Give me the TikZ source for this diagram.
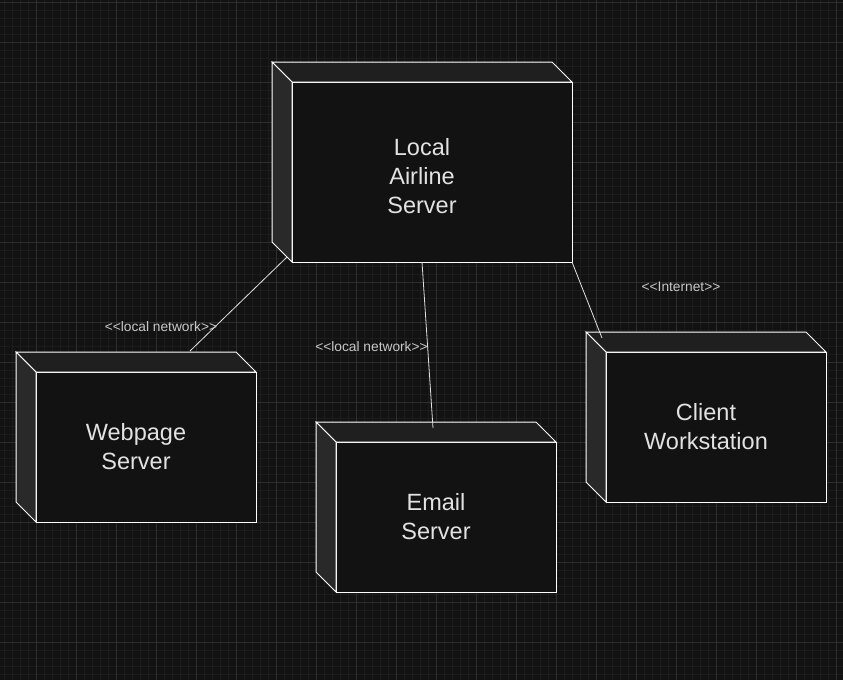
\documentclass[tikz,border=0pt]{standalone}
\usepackage{fontspec}
\setmainfont{Liberation Sans}[Ligatures=TeXOff]
\usetikzlibrary{calc}
\definecolor{bg}{HTML}{121212}
\definecolor{gridminor}{HTML}{1C1C1C}
\definecolor{gridmajor}{HTML}{2E2E2E}
\definecolor{topface}{HTML}{1F1F1F}
\definecolor{sideface}{HTML}{292929}
\definecolor{frontface}{HTML}{121212}
\definecolor{edgeline}{HTML}{E2E2E2}
\definecolor{txt}{HTML}{E2E2E2}
\definecolor{lbl}{HTML}{C8C8C8}
\newcommand\nodefaces[1]{%
  \filldraw[topf] ($(#1.north west)+(-20,-20)$) -- ($(#1.north east)+(-20,-20)$) -- (#1.north east) -- (#1.north west) -- cycle;
  \filldraw[leftf] ($(#1.north west)+(-20,-20)$) -- (#1.north west) -- (#1.south west) -- ($(#1.south west)+(-20,-20)$) -- cycle;
}
\begin{document}
\begin{tikzpicture}[x=1pt,y=-1pt,
  frontbox/.style={draw=white, line width=1pt, fill=frontface, inner sep=0pt, outer sep=0pt},
  topf/.style={draw=white, line width=1pt, fill=topface, line join=miter},
  leftf/.style={draw=white, line width=1pt, fill=sideface, line join=miter},
  boxtext/.style={text=txt, align=center, inner sep=0pt, font=\fontsize{23.5}{29}\selectfont},
  lbltext/.style={text=lbl, inner sep=0pt, font=\fontsize{13.75}{16}\selectfont},
  conn/.style={draw=edgeline, line width=0.8pt}
]
\useasboundingbox (0,0) rectangle (843,680);
\fill[bg] (0,0) rectangle (843,680);
% grid
\foreach \gx in {4,12,...,844} {\draw[gridminor, line width=0.8pt] (\gx,0) -- (\gx,680);}
\foreach \gy in {2,10,...,680} {\draw[gridminor, line width=0.8pt] (0,\gy) -- (843,\gy);}
\foreach \gx in {36,76,...,836} {\draw[gridmajor, line width=0.9pt] (\gx,0) -- (\gx,680);}
\foreach \gy in {2,42,...,680} {\draw[gridmajor, line width=0.9pt] (0,\gy) -- (843,\gy);}

% boxes (front faces)
\node[frontbox, minimum width=280pt, minimum height=180pt] (las) at (432,172) {};
\nodefaces{las}
\node[frontbox, minimum width=220pt, minimum height=150pt] (web) at (146,447) {};
\nodefaces{web}
\node[frontbox, minimum width=220pt, minimum height=150pt] (mail) at (446,517) {};
\nodefaces{mail}
\node[frontbox, minimum width=220pt, minimum height=150pt] (client) at (716,427) {};
\nodefaces{client}

% box texts
\node[boxtext] (las-t) at ($(las.center)+(-10,4.5)$) {Local\\Airline\\Server};
\node[boxtext] (web-t) at ($(web.center)+(-10,0)$) {Webpage\\Server};
\node[boxtext] (mail-t) at ($(mail.center)+(-10,0)$) {Email\\Server};
\node[boxtext] (client-t) at ($(client.center)+(-10,0)$) {Client\\Workstation};

% attachment points
\coordinate (e1s) at ($(las.south west)+(-5,-5)$);
\coordinate (e1e) at ($(web.north west)+(154,-21)$);
\coordinate (e2s) at ($(las.south west)+(130,0)$);
\coordinate (e2e) at ($(mail.north west)+(97,-14)$);
\coordinate (e3s) at (las.south east);
\coordinate (e3e) at ($(client.north west)+(-4,-14)$);

% connectors
\draw[conn] (e1s) -- (e1e);
\draw[conn] (e2s) -- (e2e);
\draw[conn] (e3s) -- (e3e);

% labels
\node[lbltext] (lbl1) at (161,327) {<<local network>>};
\node[lbltext] (lbl2) at (371.5,347) {<<local network>>};
\node[lbltext] (lbl3) at (681,287) {<<Internet>>};
\end{tikzpicture}
\end{document}
